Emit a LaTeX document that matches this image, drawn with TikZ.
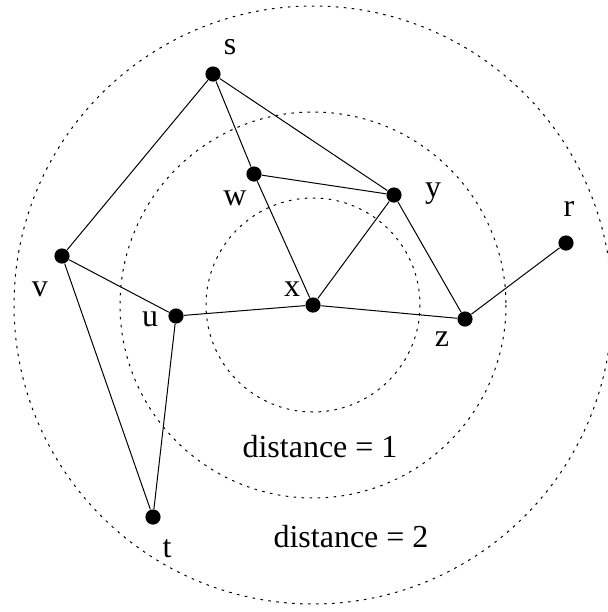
\documentclass[tikz,border=0pt]{standalone}
\usepackage{fontspec}
\setmainfont{Liberation Serif}
\usepackage{tikz}

\begin{document}
\begin{tikzpicture}[x=0.5pt, y=-0.5pt, line width=0.5pt]
\tikzstyle{vertex}=[circle, fill=black, inner sep=0pt, minimum size=7.6pt]
\tikzstyle{lbl}=[inner sep=0pt, anchor=base, font=\fontsize{16}{19}\selectfont]
\tikzstyle{ring}=[dash pattern=on 1.3pt off 2.7pt, line width=0.5pt]
\useasboundingbox (0,0) rectangle (608,612);
% rings round x
\draw[ring] (313,305) circle (107);
\draw[ring] (313,305) circle (193);
\draw[ring] (313,305) circle (299);
% vertices
\node[vertex] (s) at (213,74) {};
\node[vertex] (w) at (254,174) {};
\node[vertex] (y) at (394,195) {};
\node[vertex] (r) at (566,243) {};
\node[vertex] (v) at (62,256) {};
\node[vertex] (u) at (176,316) {};
\node[vertex] (x) at (313,305) {};
\node[vertex] (z) at (465,319) {};
\node[vertex] (t) at (153,517) {};
% labels
\node[lbl] (ls) at (230,54) {s};
\node[lbl] (lw) at (235,205) {w};
\node[lbl] (ly) at (433,197) {y};
\node[lbl] (lr) at (569,216) {r};
\node[lbl] (lv) at (40,296) {v};
\node[lbl] (lu) at (150,326) {u};
\node[lbl] (lx) at (292,296) {x};
\node[lbl] (lz) at (442,346) {z};
\node[lbl] (lt) at (167,557) {t};
\node[lbl] (d1) at (320,457) {distance = 1};
\node[lbl] (d2) at (351,547) {distance = 2};
% edges
\draw (s)--(v);
\draw (s)--(w);
\draw (s)--(y);
\draw (w)--(y);
\draw (w)--(x);
\draw (y)--(x);
\draw (y)--(z);
\draw (v)--(u);
\draw (v)--(t);
\draw (u)--(t);
\draw (u)--(x);
\draw (x)--(z);
\draw (z)--(r);
\end{tikzpicture}
\end{document}
